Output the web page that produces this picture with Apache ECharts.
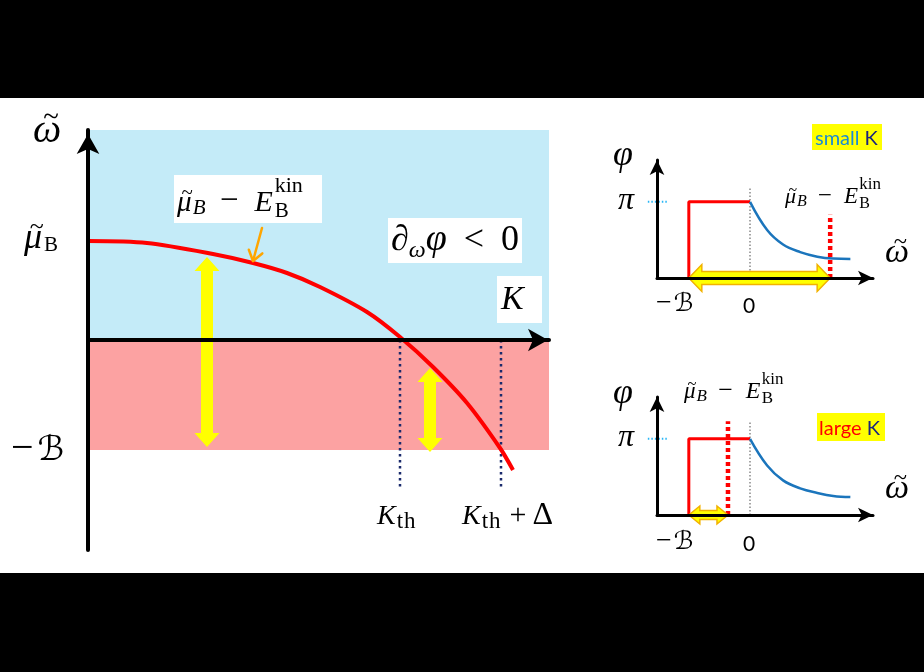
<!DOCTYPE html>
<html><head><meta charset="utf-8">
<script src="https://cdn.jsdelivr.net/npm/echarts@6/dist/echarts.min.js"></script>
<style>html,body{margin:0;padding:0;background:#000}#c{width:924px;height:672px}</style>
</head><body><div id="c"></div>
<script>
// ================= DATA =================
// main panel: K (horizontal) vs omega-tilde (vertical)
const curveK = [0, 0.59, 1.25, 1.65, 1.99, 2.32, 2.79, 3.12, 3.45, 3.79, 4.12, 4.25];
const curveW = [0.99, 0.97, 0.86, 0.77, 0.67, 0.53, 0.28, 0.03, -0.27, -0.63, -1.08, -1.30];
const minusB = -1.1;       // -B level
const regionKMax = 4.61;
const regionTop = 2.1;
const Kth = 3.12;
const KthDelta = 4.13;
const thDotBottom = [-1.47, -1.50];
const mainArrows = [[1.19, 0.83, 1.19, -1.07], [3.42, -0.28, 3.42, -1.12]];
const pointer = [[1.74, 1.12, 1.65, 0.79]];

// small panels: omega-tilde (horizontal, -B = -1, 0 = 0) vs phi (units of pi)
const stepX = [-1, -1, 0];
const stepY = [0, 1, 1];
const decayXTop = [0, 0.28, 0.54, 0.82, 1.10, 1.36, 1.64];
const decayYTop = [1.0, 0.63, 0.44, 0.34, 0.28, 0.255, 0.25];
const decayXBot = [0, 0.28, 0.54, 0.82, 1.10, 1.36, 1.64];
const decayYBot = [1.0, 0.65, 0.455, 0.35, 0.29, 0.25, 0.235];
const edgeTop = 1.31, edgeTopH = 0.83;     // mu_B - E_kin (small K)
const edgeBot = -0.36, edgeBotH = 1.23;    // mu_B - E_kin (large K)
const zeroDotTop = [0.1, 1.2], zeroDotBot = [0, 1.23];
const piGuide = [[-1.67, 1, -1.36, 1]];

// ================= HELPERS =================
const SERIF = '"Liberation Serif", "DejaVu Serif", serif';
const SANS = 'Lato, "Open Sans", sans-serif';
const SCRIPT = '"DejaVu Sans", "DejaVu Serif", serif';
const ctx = document.createElement('canvas').getContext('2d');
function fontStr(p) { return (p.it ? 'italic ' : '') + (p.bold ? 'bold ' : '') + p.size + 'px ' + (p.fam || SERIF); }
function txt(x, b, p) {
  return { type: 'text', z: 100, style: { x: x, y: b - 0.34 * p.size, text: p.t, font: fontStr(p), fill: p.color || '#000', align: p.align || 'left', verticalAlign: 'middle' } };
}
function mathText(x, baseline, pieces) {
  const out = []; let cx = x;
  pieces.forEach(p => {
    cx += (p.gap || 0);
    if (p.stack) {
      let w = 0;
      p.stack.forEach(q => { ctx.font = fontStr(q); w = Math.max(w, ctx.measureText(q.t).width); out.push(txt(cx, baseline + (q.dy || 0), q)); });
      cx += w;
    } else {
      ctx.font = fontStr(p);
      const w = ctx.measureText(p.t).width;
      out.push(txt(cx, baseline + (p.dy || 0), p));
      if (p.tilde) {
        const ts = p.size * 0.72;
        out.push(txt(cx + w / 2 + 0.1 * p.size, baseline + (p.dy || 0) - 0.42 * p.size, { t: '~', size: ts, align: 'center' }));
      }
      cx += w;
    }
  });
  return out;
}
function muLabel(x, b, s) {
  const s2 = Math.round(s * 0.72);
  return mathText(x, b, [
    { t: 'μ', size: s, it: true, tilde: true },
    { t: 'B', size: s2, it: true, dy: s * 0.08, gap: s * 0.04 },
    { t: '−', size: Math.round(s * 1.15), gap: s * 0.5 },
    { t: 'E', size: Math.round(s * 1.05), it: true, gap: s * 0.55 },
    { gap: s * 0.06, stack: [{ t: 'kin', size: Math.round(s * 0.76), dy: -s * 0.66 }, { t: 'B', size: s2, dy: s * 0.18 }] }
  ]);
}
function rect(x, y, w, h, fill, z) { return { type: 'rect', z: z, shape: { x, y, width: w, height: h }, style: { fill } }; }

function arrowSeries(gi, data, st) {
  return {
    type: 'custom', xAxisIndex: gi, yAxisIndex: gi, z: 6, data: data, clip: false,
    encode: { x: [0, 2], y: [1, 3] },
    renderItem(params, api) {
      const a = api.coord([api.value(0), api.value(1)]);
      const b = api.coord([api.value(2), api.value(3)]);
      const dx = b[0] - a[0], dy = b[1] - a[1], L = Math.hypot(dx, dy);
      const ux = dx / L, uy = dy / L, nx = -uy, ny = ux;
      const s = st.shaft / 2, h = st.head / 2, hl = st.headLen;
      const P = (t, n) => [a[0] + ux * t + nx * n, a[1] + uy * t + ny * n];
      const pts = [P(0, 0), P(hl, h), P(hl, s), P(L - hl, s), P(L - hl, h), P(L, 0), P(L - hl, -h), P(L - hl, -s), P(hl, -s), P(hl, -h)];
      return { type: 'polygon', shape: { points: pts }, style: { fill: st.fill, stroke: st.stroke || null, lineWidth: st.lw || 0 } };
    }
  };
}
function pointerSeries(gi, data) {
  return {
    type: 'custom', xAxisIndex: gi, yAxisIndex: gi, z: 6, data: data, clip: false,
    encode: { x: [0, 2], y: [1, 3] },
    renderItem(params, api) {
      const a = api.coord([api.value(0), api.value(1)]);
      const b = api.coord([api.value(2), api.value(3)]);
      const dx = b[0] - a[0], dy = b[1] - a[1], L = Math.hypot(dx, dy);
      const ux = dx / L, uy = dy / L;
      const arm = 12, ang = 0.62;
      const rot = (t) => [-(ux * Math.cos(t) - uy * Math.sin(t)), -(ux * Math.sin(t) + uy * Math.cos(t))];
      const r1 = rot(ang), r2 = rot(-ang);
      const st = { stroke: '#ffa500', lineWidth: 2.5, fill: null, lineCap: 'round', lineJoin: 'round' };
      return { type: 'group', children: [
        { type: 'line', shape: { x1: a[0], y1: a[1], x2: b[0], y2: b[1] }, style: st },
        { type: 'polyline', shape: { points: [[b[0] + r1[0] * arm, b[1] + r1[1] * arm], b, [b[0] + r2[0] * arm, b[1] + r2[1] * arm]] }, style: st }
      ] };
    }
  };
}
function dottedSeries(gi, data, color, width, dash) {
  return {
    type: 'custom', xAxisIndex: gi, yAxisIndex: gi, z: 3, data: data, clip: false,
    encode: { x: [0, 2], y: [1, 3] },
    renderItem(params, api) {
      const a = api.coord([api.value(0), api.value(1)]);
      const b = api.coord([api.value(2), api.value(3)]);
      return { type: 'line', shape: { x1: a[0], y1: a[1], x2: b[0], y2: b[1] }, style: { stroke: color, lineWidth: width, lineDash: dash, fill: null } };
    }
  };
}
function seg(gi, pts, color, width, type, z, extra) {
  return Object.assign({ type: 'line', xAxisIndex: gi, yAxisIndex: gi, data: pts, symbol: 'none', silent: true, z: z || 4,
    lineStyle: { color: color, width: width, type: type || 'solid', cap: 'butt' } }, extra || {});
}
function zip(a, b) { return a.map((v, i) => [v, b[i]]); }

const hidden = { axisTick: { show: false }, axisLabel: { show: false }, splitLine: { show: false } };
function axisLine(w, size, off, onZero) {
  return { show: true, onZero: onZero, symbol: ['none', 'arrow'], symbolSize: size, symbolOffset: [0, off], lineStyle: { color: '#000', width: w } };
}

// ================= OPTION =================
const chart = echarts.init(document.getElementById('c'), null, { renderer: 'canvas' });
const option = {
  animation: false,
  backgroundColor: '#000',
  grid: [
    { left: 88, top: 130, width: 461, height: 420, outerBoundsMode: 'none' },
    { left: 657, top: 160, width: 216, height: 118, outerBoundsMode: 'none' },
    { left: 657, top: 397, width: 216, height: 118, outerBoundsMode: 'none' }
  ],
  xAxis: [
    Object.assign({ gridIndex: 0, type: 'value', min: 0, max: regionKMax, z: 10, axisLine: axisLine(4, [17, 20], -1, true) }, hidden),
    Object.assign({ gridIndex: 1, type: 'value', min: -1.52, max: 2.01, z: 10, axisLine: axisLine(3, [11, 15], 0, false) }, hidden),
    Object.assign({ gridIndex: 2, type: 'value', min: -1.52, max: 2.01, z: 10, axisLine: axisLine(3, [11, 15], 0, false) }, hidden)
  ],
  yAxis: [
    Object.assign({ gridIndex: 0, type: 'value', min: -2.1, max: 2.1, z: 10, axisLine: axisLine(4, [17, 20], -4, false) }, hidden),
    Object.assign({ gridIndex: 1, type: 'value', min: 0, max: 1.55, z: 10, axisLine: axisLine(3, [11, 15], 0, false) }, hidden),
    Object.assign({ gridIndex: 2, type: 'value', min: 0, max: 1.55, z: 10, axisLine: axisLine(3, [11, 15], 0, false) }, hidden)
  ],
  series: [
    Object.assign(seg(0, zip(curveK, curveW), '#ff0000', 4, 'solid', 5), {
      smooth: 0.3,
      markArea: { silent: true, z: 1, data: [
        [{ coord: [0, 0], itemStyle: { color: '#c4ebf8' } }, { coord: [regionKMax, regionTop] }],
        [{ coord: [0, minusB], itemStyle: { color: '#fca2a2' } }, { coord: [regionKMax, 0] }]
      ] }
    }),
    seg(0, [[Kth, 0], [Kth, thDotBottom[0]]], '#1a2a6c', 2.5, [2.5, 3.5], 4),
    seg(0, [[KthDelta, 0], [KthDelta, thDotBottom[1]]], '#1a2a6c', 2.5, [2.5, 3.5], 4),
    arrowSeries(0, mainArrows, { shaft: 12, head: 25, headLen: 14, fill: '#ffff00' }),
    pointerSeries(0, pointer),

    // small K panel
    seg(1, [[0, zeroDotTop[0]], [0, zeroDotTop[1]]], '#888', 1.5, [1.5, 2], 3),
    dottedSeries(1, piGuide, '#29b6f6', 2, [1.5, 2]),
    seg(1, zip(stepX, stepY), '#ff0000', 3, 'solid', 5),
    seg(1, zip(decayXTop, decayYTop), '#1b75bc', 2.5, 'solid', 5, { smooth: 0.4 }),
    seg(1, [[edgeTop, 0], [edgeTop, edgeTopH]], '#ff0000', 4.5, [4, 3], 5),
    arrowSeries(1, [[-1, 0, edgeTop, 0]], { shaft: 13, head: 27, headLen: 13, fill: '#ffff00', stroke: '#f2b200', lw: 1.5 }),

    // large K panel
    seg(2, [[0, zeroDotBot[0]], [0, zeroDotBot[1]]], '#888', 1.5, [1.5, 2], 3),
    dottedSeries(2, piGuide, '#29b6f6', 2, [1.5, 2]),
    seg(2, zip(stepX, stepY), '#ff0000', 3, 'solid', 5),
    seg(2, zip(decayXBot, decayYBot), '#1b75bc', 2.5, 'solid', 5, { smooth: 0.4 }),
    seg(2, [[edgeBot, 0], [edgeBot, edgeBotH]], '#ff0000', 4.5, [4, 3], 5),
    arrowSeries(2, [[-1, 0, edgeBot, 0]], { shaft: 9, head: 18, headLen: 11, fill: '#ffff00', stroke: '#f2b200', lw: 1.5 })
  ],
  graphic: [].concat(
    [rect(0, 98, 924, 475, '#fff', -100)],
    // main labels
    mathText(33, 145, [{ t: 'ω', size: 40, it: true, tilde: true }]),
    mathText(24, 251, [{ t: 'μ', size: 36, it: true, tilde: true }, { t: 'B', size: 21, dy: 2, gap: 2 }]),
    mathText(11, 463, [{ t: '−', size: 40 }, { t: 'ℬ', size: 34, gap: 4, fam: SCRIPT }]),
    [rect(174, 175, 148, 48, '#fff', 90)],
    muLabel(177, 213, 29),
    [rect(388, 218, 134, 45, '#fff', 90)],
    mathText(391, 253, [{ t: '∂', size: 36, it: true }, { t: 'ω', size: 24, it: true, dy: 6 }, { t: 'φ', size: 38, it: true }, { t: '<', size: 36, gap: 17 }, { t: '0', size: 36, gap: 17 }]),
    [rect(497, 276, 45, 47, '#fff', 90)],
    mathText(501, 312, [{ t: 'K', size: 34, it: true }]),
    mathText(377, 526, [{ t: 'K', size: 28, it: true }, { t: 't', size: 23, dy: 4, gap: 1 }, { t: 'h', size: 23, dy: 4, gap: 1 }]),
    mathText(462, 526, [{ t: 'K', size: 28, it: true }, { t: 't', size: 23, dy: 4, gap: 1 }, { t: 'h', size: 23, dy: 4, gap: 1 }, { t: '+', size: 30, gap: 9 }, { t: 'Δ', size: 32, gap: 6 }]),
    // small K panel labels
    mathText(613, 168, [{ t: 'φ', size: 36, it: true }]),
    mathText(618, 211, [{ t: 'π', size: 32, it: true }]),
    mathText(885, 265, [{ t: 'ω', size: 34, it: true, tilde: true }]),
    mathText(656, 313, [{ t: '−', size: 28 }, { t: 'ℬ', size: 25, gap: 2, fam: SCRIPT }]),
    mathText(743, 313, [{ t: '0', size: 21, fam: SANS }]),
    muLabel(785, 205, 22),
    [rect(812, 124, 70, 26, '#ffff00', 90)],
    mathText(815, 145, [{ t: 'small ', size: 20, fam: SANS, color: '#1a8ad4' }, { t: 'K', size: 20, fam: SANS, color: '#1a237e' }]),
    // large K panel labels
    mathText(613, 406, [{ t: 'φ', size: 36, it: true }]),
    mathText(618, 448, [{ t: 'π', size: 32, it: true }]),
    mathText(885, 501, [{ t: 'ω', size: 34, it: true, tilde: true }]),
    mathText(656, 551, [{ t: '−', size: 28 }, { t: 'ℬ', size: 25, gap: 2, fam: SCRIPT }]),
    mathText(743, 551, [{ t: '0', size: 21, fam: SANS }]),
    muLabel(684, 400, 23),
    [rect(817, 413, 68, 28, '#ffff00', 90)],
    mathText(819, 435, [{ t: 'large ', size: 20, fam: SANS, color: '#ff0000' }, { t: 'K', size: 20, fam: SANS, color: '#1a237e' }])
  )
};
chart.setOption(option);
</script>
</body></html>
